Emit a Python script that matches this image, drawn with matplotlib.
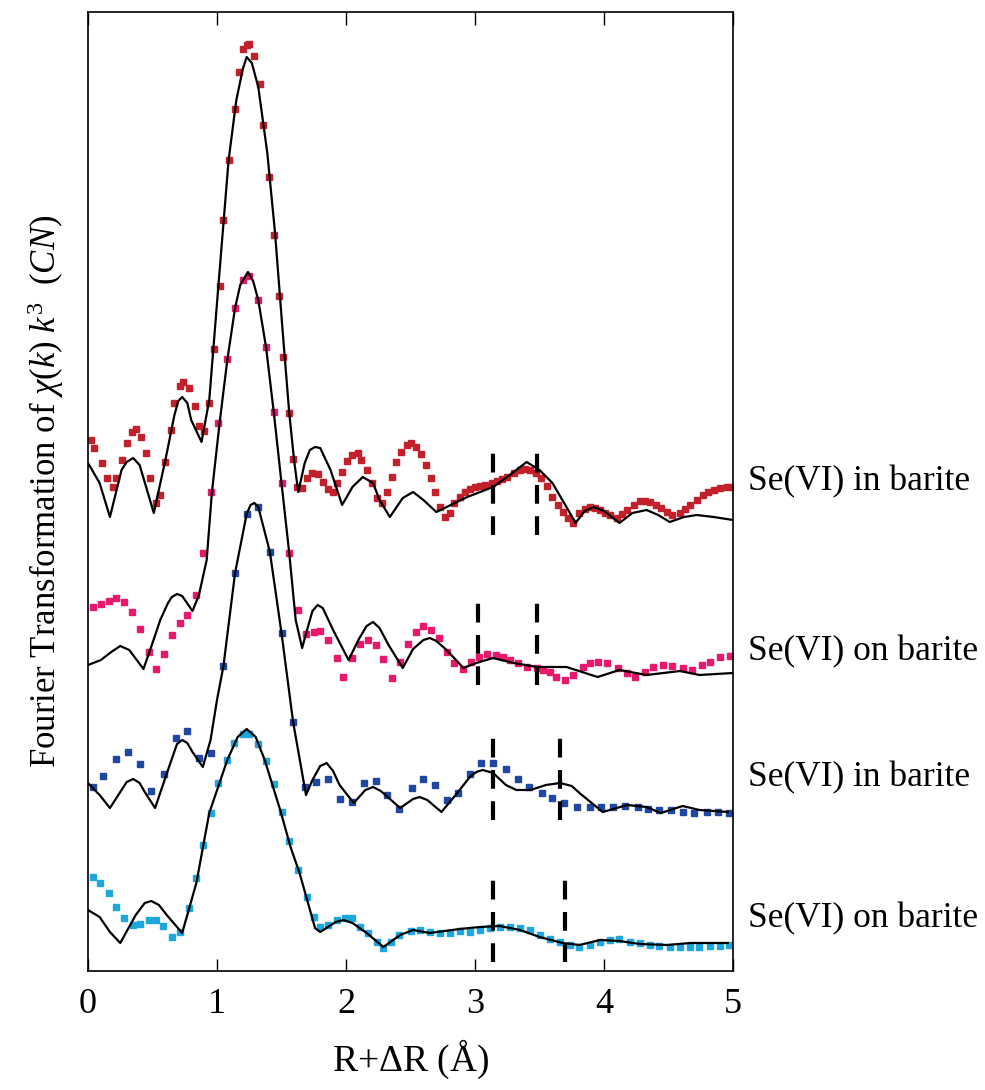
import numpy as np
import matplotlib.pyplot as plt

plt.rcParams['font.family'] = ['Liberation Serif', 'DejaVu Serif']
plt.rcParams['mathtext.fontset'] = 'custom'
plt.rcParams['mathtext.rm'] = 'Liberation Serif'
plt.rcParams['mathtext.it'] = 'Liberation Serif:italic'

# --- Se(VI) in barite (top, red) ---
red_fit_x = [0.0, 0.09, 0.17, 0.26, 0.30, 0.35, 0.40, 0.43, 0.51, 0.60, 0.67, 0.70, 0.73, 0.77, 0.80,
             0.88, 0.94, 1.01, 1.09, 1.15, 1.20, 1.23, 1.27, 1.32, 1.39, 1.45, 1.51, 1.56, 1.60, 1.63,
             1.68, 1.72, 1.76, 1.80, 1.88, 1.97, 2.05, 2.13, 2.21, 2.26, 2.34, 2.44, 2.52, 2.60, 2.70,
             2.94, 3.14, 3.27, 3.40, 3.50, 3.60, 3.70, 3.78, 3.85, 3.92, 4.00, 4.12, 4.22, 4.33, 4.42,
             4.51, 4.62, 4.72, 4.85, 5.0]
red_fit_y = [50.8, 48.8, 45.4, 50.1, 50.9, 51.3, 50.6, 49.3, 45.8, 51.1, 55.6, 57.0, 57.4, 56.8, 55.1,
             52.9, 57.1, 68.4, 81.1, 87.1, 90.2, 91.4, 90.8, 88.4, 81.8, 73.8, 63.8, 55.8, 50.8, 47.9,
             50.8, 52.1, 52.4, 52.3, 50.1, 46.6, 48.4, 49.4, 48.8, 47.1, 45.4, 47.3, 47.9, 47.1, 45.9,
             47.4, 48.4, 49.6, 50.9, 50.1, 48.8, 46.6, 44.8, 46.0, 46.4, 46.0, 44.8, 45.8, 46.1, 45.6,
             44.9, 45.4, 45.6, 45.4, 45.1]
red_dat_x = [0.02, 0.05, 0.11, 0.15, 0.19, 0.22, 0.26, 0.30, 0.34, 0.37, 0.41, 0.45, 0.48, 0.53, 0.56,
             0.60, 0.64, 0.67, 0.71, 0.74, 0.78, 0.83, 0.86, 0.90, 0.94, 0.98, 1.02, 1.05, 1.09, 1.14,
             1.17, 1.20, 1.23, 1.25, 1.29, 1.33, 1.36, 1.40, 1.44, 1.48, 1.51, 1.56, 1.59, 1.62, 1.66,
             1.70, 1.74, 1.78, 1.82, 1.86, 1.90, 1.93, 1.97, 2.01, 2.05, 2.09, 2.12, 2.16, 2.20, 2.24,
             2.28, 2.32, 2.36, 2.39, 2.43, 2.47, 2.50, 2.54, 2.58, 2.62, 2.66, 2.69, 2.73, 2.77, 2.81,
             2.84, 2.88, 2.92, 2.96, 3.00, 3.04, 3.08, 3.13, 3.17, 3.21, 3.25, 3.30, 3.35, 3.39, 3.43,
             3.47, 3.51, 3.56, 3.60, 3.64, 3.68, 3.72, 3.76, 3.81, 3.85, 3.89, 3.93, 3.97, 4.01, 4.05,
             4.10, 4.14, 4.18, 4.23, 4.28, 4.32, 4.36, 4.40, 4.44, 4.49, 4.53, 4.59, 4.63, 4.67, 4.72,
             4.77, 4.81, 4.85, 4.90, 4.95, 4.99]
red_dat_y = [53.1, 52.3, 50.8, 49.3, 48.4, 49.3, 51.1, 52.8, 53.9, 54.2, 53.4, 51.8, 49.3, 46.8, 47.6,
             50.9, 54.1, 56.8, 58.5, 58.9, 58.3, 56.5, 54.5, 54.0, 56.8, 62.2, 68.5, 75.1, 81.1, 86.2,
             89.9, 92.2, 92.6, 92.7, 91.5, 88.7, 84.6, 79.4, 73.6, 67.5, 61.4, 55.8, 51.2, 48.4, 48.3,
             49.3, 49.8, 49.7, 48.9, 48.2, 47.9, 48.8, 49.9, 51.0, 51.6, 51.8, 51.1, 50.1, 48.8, 47.3,
             46.8, 47.9, 49.4, 50.9, 51.9, 52.6, 52.8, 52.4, 51.7, 50.6, 49.3, 47.9, 46.4, 45.4, 45.8,
             46.8, 47.4, 47.9, 48.2, 48.4, 48.5, 48.6, 48.8, 49.0, 49.2, 49.4, 49.8, 50.1, 50.2, 50.1,
             49.8, 49.3, 48.5, 47.4, 46.6, 45.9, 45.3, 44.8, 45.8, 46.2, 46.4, 46.3, 46.1, 45.8, 45.6,
             45.3, 45.7, 46.1, 46.6, 47.0, 47.0, 46.9, 46.6, 46.3, 45.9, 45.6, 45.8, 46.2, 46.6, 47.1,
             47.6, 47.9, 48.1, 48.3, 48.4, 48.4]

# --- Se(VI) on barite (pink) ---
pink_fit_x = [0.0, 0.10, 0.18, 0.25, 0.32, 0.43, 0.50, 0.56, 0.62, 0.65, 0.69, 0.73, 0.81, 0.86, 0.92,
              0.96, 1.02, 1.08, 1.14, 1.18, 1.24, 1.28, 1.32, 1.38, 1.44, 1.50, 1.56, 1.61, 1.66, 1.70,
              1.74, 1.78, 1.82, 1.90, 2.02, 2.10, 2.16, 2.21, 2.26, 2.33, 2.44, 2.52, 2.60, 2.65, 2.70,
              2.78, 2.91, 3.01, 3.14, 3.30, 3.48, 3.71, 3.95, 4.12, 4.33, 4.59, 4.74, 5.0]
pink_fit_y = [30.6, 31.1, 31.9, 32.5, 32.1, 30.2, 32.8, 35.1, 36.8, 37.4, 37.7, 37.5, 36.0, 37.6, 41.1,
              47.8, 54.8, 61.1, 66.3, 68.6, 69.9, 69.0, 67.1, 62.4, 55.9, 48.8, 41.8, 35.1, 32.3, 34.2,
              36.0, 36.6, 36.3, 34.1, 31.1, 33.2, 34.5, 34.9, 34.3, 32.6, 30.3, 32.2, 33.1, 33.3, 33.0,
              32.1, 30.3, 30.8, 31.3, 30.8, 30.4, 30.4, 29.4, 30.1, 29.6, 30.0, 29.6, 29.8]
pink_dat_x = [0.04, 0.10, 0.16, 0.22, 0.28, 0.34, 0.40, 0.47, 0.53, 0.59, 0.65, 0.71, 0.77, 0.84, 0.89,
              0.95, 1.01, 1.08, 1.14, 1.20, 1.25, 1.32, 1.38, 1.44, 1.50, 1.56, 1.63, 1.69, 1.75, 1.80,
              1.86, 1.93, 1.98, 2.05, 2.11, 2.17, 2.23, 2.29, 2.36, 2.42, 2.48, 2.54, 2.60, 2.66, 2.72,
              2.78, 2.84, 2.91, 2.97, 3.03, 3.09, 3.16, 3.22, 3.27, 3.33, 3.40, 3.48, 3.53, 3.58, 3.63,
              3.70, 3.76, 3.84, 3.89, 3.95, 4.02, 4.11, 4.18, 4.24, 4.32, 4.38, 4.46, 4.53, 4.61, 4.68,
              4.76, 4.82, 4.90, 4.98]
pink_dat_y = [36.4, 36.7, 37.0, 37.3, 36.9, 35.9, 34.2, 31.9, 30.2, 31.7, 33.6, 34.8, 35.6, 37.6, 41.8,
              47.9, 54.8, 61.2, 66.3, 69.1, 69.5, 67.1, 62.4, 55.9, 48.8, 41.8, 36.1, 33.7, 33.9, 34.0,
              33.1, 31.3, 29.4, 31.3, 32.7, 33.1, 32.6, 31.2, 29.3, 30.9, 32.7, 33.9, 34.5, 34.1, 33.3,
              31.9, 30.8, 30.2, 30.9, 31.4, 31.7, 31.6, 31.4, 31.1, 30.8, 30.4, 30.3, 30.1, 29.9, 29.4,
              29.1, 29.6, 30.4, 30.8, 30.9, 30.8, 30.3, 29.8, 29.4, 29.9, 30.4, 30.6, 30.5, 30.3, 30.1,
              30.6, 30.9, 31.4, 31.5]

# --- Se(VI) in barite (dark blue) ---
blue_fit_x = [0.0, 0.09, 0.17, 0.26, 0.30, 0.35, 0.40, 0.44, 0.52, 0.62, 0.69, 0.73, 0.77, 0.81, 0.89,
              0.95, 1.00, 1.05, 1.14, 1.23, 1.26, 1.29, 1.32, 1.41, 1.50, 1.59, 1.69, 1.74, 1.80, 1.85,
              1.90, 1.95, 2.06, 2.15, 2.21, 2.27, 2.42, 2.52, 2.57, 2.63, 2.74, 2.85, 2.96, 3.01, 3.06,
              3.14, 3.24, 3.32, 3.43, 3.55, 3.66, 3.75, 3.81, 3.99, 4.18, 4.33, 4.44, 4.61, 4.74, 4.96]
blue_fit_y = [18.8, 17.6, 16.3, 18.1, 18.9, 19.2, 18.8, 17.9, 16.3, 20.1, 22.7, 23.1, 22.8, 21.9, 20.4,
              23.1, 27.1, 30.5, 39.8, 45.7, 46.6, 46.8, 46.4, 41.9, 33.8, 24.9, 17.6, 19.1, 20.5, 20.8,
              20.0, 18.6, 16.8, 18.1, 18.4, 18.0, 16.3, 17.2, 17.4, 17.1, 15.9, 17.6, 19.4, 19.9, 20.1,
              19.8, 18.6, 18.1, 18.1, 18.6, 18.8, 18.5, 17.8, 15.9, 16.6, 16.4, 15.8, 16.5, 16.1, 15.9]
blue_dat_x = [0.04, 0.12, 0.22, 0.31, 0.40, 0.49, 0.59, 0.68, 0.77, 0.86, 0.95, 1.05, 1.14, 1.23, 1.32,
              1.41, 1.50, 1.59, 1.68, 1.77, 1.86, 1.95, 2.05, 2.14, 2.23, 2.32, 2.41, 2.51, 2.60, 2.69,
              2.78, 2.87, 2.96, 3.05, 3.14, 3.24, 3.33, 3.42, 3.52, 3.60, 3.69, 3.79, 3.89, 3.98, 4.07,
              4.16, 4.26, 4.34, 4.43, 4.52, 4.61, 4.70, 4.80, 4.88, 4.97]
blue_dat_y = [18.4, 19.5, 21.2, 21.9, 20.7, 18.0, 19.7, 23.3, 24.0, 21.3, 21.8, 30.5, 39.8, 45.7, 46.4,
              41.9, 33.8, 24.9, 18.4, 18.9, 19.2, 17.2, 16.9, 18.8, 19.0, 17.6, 16.2, 18.3, 19.2, 18.6,
              17.1, 17.8, 19.7, 20.8, 20.8, 20.2, 19.2, 18.4, 17.8, 17.3, 16.8, 16.4, 16.4, 16.4, 16.4,
              16.5, 16.4, 16.2, 16.1, 16.1, 15.9, 15.8, 15.9, 15.9, 15.8]

# --- Se(VI) on barite (light blue) ---
cyan_fit_x = [0.0, 0.09, 0.17, 0.25, 0.37, 0.44, 0.49, 0.55, 0.61, 0.73, 0.84, 0.94, 1.08, 1.16, 1.23,
              1.30, 1.37, 1.49, 1.57, 1.64, 1.76, 1.80, 1.92, 1.98, 2.05, 2.16, 2.29, 2.42, 2.52, 2.65,
              2.88, 3.04, 3.19, 3.35, 3.50, 3.68, 3.81, 3.97, 4.12, 4.28, 4.49, 4.67, 4.96]
cyan_fit_y = [6.1, 5.4, 3.9, 2.8, 5.6, 6.8, 7.0, 6.6, 5.6, 3.8, 8.8, 15.8, 21.1, 23.4, 24.2,
              23.4, 21.1, 16.1, 12.4, 9.8, 4.3, 3.9, 4.9, 5.1, 4.8, 3.8, 2.4, 3.6, 4.1, 3.8,
              4.2, 4.4, 4.5, 4.1, 3.4, 2.8, 2.6, 3.1, 3.0, 2.7, 2.6, 2.8, 2.8]
cyan_dat_x = [0.04, 0.09, 0.16, 0.22, 0.28, 0.35, 0.40, 0.47, 0.53, 0.58, 0.65, 0.71, 0.78, 0.84, 0.89,
              0.95, 1.01, 1.08, 1.13, 1.20, 1.25, 1.32, 1.38, 1.44, 1.50, 1.56, 1.63, 1.70, 1.75, 1.80,
              1.86, 1.93, 1.99, 2.05, 2.11, 2.17, 2.24, 2.29, 2.35, 2.41, 2.50, 2.57, 2.65, 2.73, 2.81,
              2.88, 2.96, 3.04, 3.12, 3.19, 3.27, 3.35, 3.43, 3.50, 3.58, 3.66, 3.74, 3.81, 3.89, 3.97,
              4.05, 4.12, 4.20, 4.28, 4.36, 4.43, 4.51, 4.59, 4.67, 4.74, 4.82, 4.90, 4.97]
cyan_dat_y = [9.4, 8.8, 7.8, 6.4, 5.3, 4.6, 4.7, 5.1, 5.1, 4.5, 3.4, 3.9, 6.3, 9.3, 12.6,
              15.8, 18.8, 21.1, 22.8, 23.7, 23.7, 22.7, 21.0, 18.7, 15.9, 13.0, 10.1, 7.4, 5.4, 4.4,
              4.6, 5.1, 5.3, 5.3, 4.4, 3.8, 2.9, 2.3, 2.9, 3.6, 4.0, 4.1, 3.9, 3.8, 3.8,
              4.0, 3.9, 4.1, 4.3, 4.4, 4.4, 4.3, 4.1, 3.6, 3.2, 2.9, 2.6, 2.4, 2.6, 2.9,
              3.1, 3.2, 2.9, 2.8, 2.6, 2.5, 2.4, 2.4, 2.4, 2.4, 2.5, 2.5, 2.6]

# dashed markers: (x positions, y bottom, y top) per spectrum
dash_x = [[3.14, 3.48], [3.02, 3.48], [3.14, 3.66], [3.14, 3.70]]
dash_y0 = [43.6, 28.6, 15.1, 0.9]
dash_y1 = [52.6, 37.4, 23.9, 9.8]

labels = ["Se(VI) in barite", "Se(VI) on barite", "Se(VI) in barite", "Se(VI) on barite"]
label_y = [48.9, 31.9, 19.3, 5.2]

colors = ["#c4202b", "#e8186c", "#1f47a3", "#1ea7df"]
fits = [(red_fit_x, red_fit_y), (pink_fit_x, pink_fit_y), (blue_fit_x, blue_fit_y), (cyan_fit_x, cyan_fit_y)]
dats = [(red_dat_x, red_dat_y), (pink_dat_x, pink_dat_y), (blue_dat_x, blue_dat_y), (cyan_dat_x, cyan_dat_y)]

fig = plt.figure(figsize=(9.85, 10.9), dpi=100)
ax = fig.add_axes([88/985, 1 - 971/1090, 645/985, 959/1090])

for (fx, fy), (dx, dy), c in zip(fits, dats, colors):
    ax.plot(dx, dy, ls='none', marker='s', ms=3.8, color=c, mec=c, zorder=2)
    ax.plot(fx, fy, color='black', lw=1.6, zorder=3, solid_joinstyle='round')

for xs, y0, y1 in zip(dash_x, dash_y0, dash_y1):
    for xv in xs:
        ax.plot([xv, xv], [y0, y1], color='black', lw=3, ls=(0, (4.5, 3.0)), zorder=4)

for lab, ly in zip(labels, label_y):
    ax.text(5.12, ly, lab, fontsize=25.5, va='center', ha='left', clip_on=False)

ax.set_xlim(0, 5)
ax.set_ylim(0, 95.9)
ax.set_xticks([0, 1, 2, 3, 4, 5])
ax.set_yticks([])
ax.tick_params(axis='x', direction='in', length=9, width=1, top=True, labelsize=26, pad=12)
for s in ax.spines.values():
    s.set_linewidth(1.2)

ax.set_xlabel(r"R+$\it{\Delta}$R (Å)", fontsize=27, labelpad=12)
ax.set_ylabel(r"Fourier Transformation of $\chi(k)\ k^{3}\ \ (CN)$", fontsize=25, labelpad=16)

fig.savefig("out.png", dpi=100)
